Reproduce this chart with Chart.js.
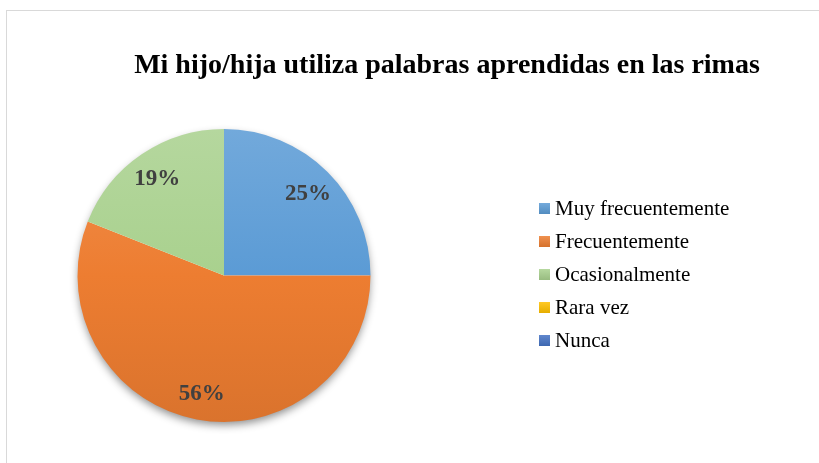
<!DOCTYPE html>
<html>
<head>
<meta charset="utf-8">
<script src="https://cdn.jsdelivr.net/npm/chart.js@4"></script>
<style>
  html, body { margin: 0; padding: 0; background: #fff; }
  body { width: 819px; height: 463px; overflow: hidden; position: relative; }
  #frame { position: absolute; left: 6px; top: 10px; width: 900px; height: 600px; border: 1px solid #d9d9d9; box-sizing: border-box; }
  #wrap { position: absolute; left: 0; top: 0; width: 819px; height: 463px; }
</style>
</head>
<body>
<div id="frame"></div>
<div id="wrap"><canvas id="c" width="819" height="463"></canvas></div>
<script>
const chartTitle = "Mi hijo/hija utiliza palabras aprendidas en las rimas";
const categories = ["Muy frecuentemente", "Frecuentemente", "Ocasionalmente", "Rara vez", "Nunca"];
const values = [25, 56, 19, 0, 0];
const pctLabels = ["25%", "56%", "19%", "0%", "0%"];
const baseColors = ["#5B9BD5", "#ED7D31", "#A9D18E", "#FFC000", "#4472C4"];

function shade(hex, amt) {
  const n = parseInt(hex.slice(1), 16);
  let r = (n >> 16) & 255, g = (n >> 8) & 255, b = n & 255;
  const f = c => amt >= 0 ? Math.round(c + (255 - c) * amt) : Math.round(c * (1 + amt));
  return `rgb(${f(r)},${f(g)},${f(b)})`;
}

const SERIF = '"Liberation Serif", "Times New Roman", serif';

const decorPlugin = {
  id: 'decor',
  beforeDatasetsDraw(chart) {
    const arc = chart.getDatasetMeta(0).data[0];
    if (!arc) return;
    const ctx = chart.ctx;
    ctx.save();
    ctx.shadowColor = 'rgba(0,0,0,0.45)';
    ctx.shadowBlur = 9;
    ctx.shadowOffsetY = 4;
    ctx.beginPath();
    ctx.arc(arc.x, arc.y, arc.outerRadius - 1, 0, Math.PI * 2);
    ctx.fillStyle = '#ffffff';
    ctx.fill();
    ctx.restore();
  },
  afterDraw(chart) {
    const ctx = chart.ctx;
    ctx.save();
    // title
    ctx.font = 'bold 28px ' + SERIF;
    ctx.fillStyle = '#000000';
    ctx.textAlign = 'center';
    ctx.textBaseline = 'alphabetic';
    ctx.fillText(chartTitle, 447, 73);
    // slice labels
    const meta = chart.getDatasetMeta(0);
    ctx.font = 'bold 23px ' + SERIF;
    ctx.fillStyle = '#404040';
    meta.data.forEach((a, i) => {
      if (!values[i]) return;
      const mid = (a.startAngle + a.endAngle) / 2;
      const r = a.outerRadius * 0.81;
      const x = a.x + Math.cos(mid) * r;
      const y = a.y + Math.sin(mid) * r;
      ctx.fillText(pctLabels[i], x, y + 8);
    });
    // legend
    ctx.font = '21px ' + SERIF;
    ctx.textAlign = 'left';
    categories.forEach((name, i) => {
      const cy = 208.5 + i * 33;
      const g = ctx.createLinearGradient(0, cy - 5.5, 0, cy + 5.5);
      g.addColorStop(0, shade(baseColors[i], 0.15));
      g.addColorStop(1, shade(baseColors[i], -0.1));
      ctx.fillStyle = g;
      ctx.fillRect(539, cy - 5.5, 11, 11);
      ctx.fillStyle = '#000000';
      ctx.fillText(name, 555, cy + 6.5);
    });
    ctx.restore();
  }
};

new Chart(document.getElementById('c'), {
  type: 'pie',
  data: {
    labels: categories,
    datasets: [{
      data: values,
      borderWidth: 0,
      backgroundColor: (ctx) => {
        const area = ctx.chart.chartArea;
        const base = baseColors[ctx.dataIndex];
        if (!area) return base;
        const g = ctx.chart.ctx.createLinearGradient(0, area.top, 0, area.bottom);
        g.addColorStop(0, shade(base, 0.14));
        g.addColorStop(0.5, shade(base, 0.0));
        g.addColorStop(1, shade(base, -0.08));
        return g;
      }
    }]
  },
  options: {
    responsive: false,
    animation: false,
    layout: { padding: { left: 77, right: 448, top: 129, bottom: 41 } },
    plugins: {
      legend: { display: false },
      title: { display: false },
      tooltip: { enabled: false }
    }
  },
  plugins: [decorPlugin]
});
</script>
</body>
</html>
